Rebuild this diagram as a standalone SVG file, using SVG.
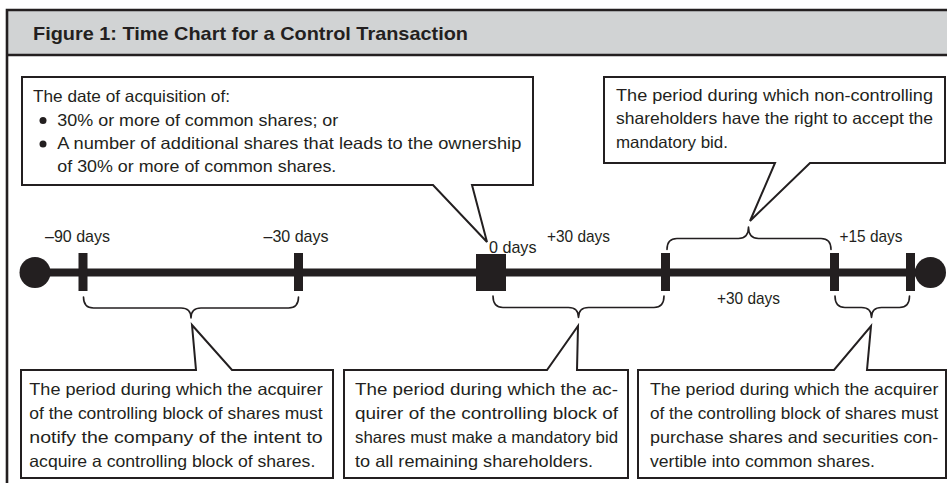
<svg xmlns="http://www.w3.org/2000/svg" width="947" height="483" viewBox="0 0 947 483">
<style>
text{font-family:"Liberation Sans",Arial,sans-serif;font-size:16.5px;fill:#231f20}
.title{font-weight:bold;font-size:19px}
.lbl{font-size:17px}
.box{fill:#fff;stroke:#231f20;stroke-width:2;stroke-linejoin:miter}
.brace{fill:none;stroke:#231f20;stroke-width:1.6;stroke-linecap:round;stroke-linejoin:round}
.solid{fill:#231f20}
</style>
<rect x="0" y="0" width="947" height="483" fill="#fff"/>
<g id="frame">
<rect x="7" y="10" width="945" height="45" fill="#d1d3d4"/>
<path d="M7,490 V10 H952 M7,55 H952" fill="none" stroke="#231f20" stroke-width="2.6"/>
<text class="title" x="33" y="40" textLength="435" lengthAdjust="spacingAndGlyphs">Figure 1: Time Chart for a Control Transaction</text>
</g>
<g id="timeline">
<rect class="solid" x="35" y="268.5" width="895" height="8"/>
<circle class="solid" cx="35" cy="272.5" r="15.5"/>
<circle class="solid" cx="930.5" cy="272.5" r="15.5"/>
<rect class="solid" x="78.5" y="253" width="9" height="38"/>
<rect class="solid" x="294" y="253" width="9" height="38"/>
<rect class="solid" x="476" y="254" width="30" height="37"/>
<rect class="solid" x="661" y="253" width="9" height="38"/>
<rect class="solid" x="830" y="253" width="9" height="38"/>
<rect class="solid" x="906" y="253" width="9" height="38"/>
</g>
<g id="labels">
<text class="lbl" x="45" y="241.5" textLength="65" lengthAdjust="spacingAndGlyphs">–90 days</text>
<text class="lbl" x="263.5" y="241.5" textLength="65" lengthAdjust="spacingAndGlyphs">–30 days</text>
<text class="lbl" x="489" y="252.5" textLength="47.5" lengthAdjust="spacingAndGlyphs">0 days</text>
<text class="lbl" x="547" y="241.5" textLength="63" lengthAdjust="spacingAndGlyphs">+30 days</text>
<text class="lbl" x="839.5" y="241.5" textLength="63" lengthAdjust="spacingAndGlyphs">+15 days</text>
<text class="lbl" x="717" y="304" textLength="63" lengthAdjust="spacingAndGlyphs">+30 days</text>
</g>
<g id="connectors">
<path class="brace" d="M83.5,297 Q83.5,308 93.5,308 L181,308 Q191,308 191,318 Q191,308 201,308 L288.5,308 Q298.5,308 298.5,297"/>
<path class="brace" d="M493,296 Q493,307.5 503,307.5 L568.5,307.5 Q578.5,307.5 578.5,317.5 Q578.5,307.5 588.5,307.5 L654,307.5 Q664,307.5 664,296"/>
<path class="brace" d="M835,296 Q835,307.5 845,307.5 L861.5,307.5 Q871.5,307.5 871.5,317.5 Q871.5,307.5 881.5,307.5 L899.5,307.5 Q909.5,307.5 909.5,296"/>
<path class="brace" d="M667,249.5 Q667,238.5 677,238.5 L738.5,238.5 Q748.5,238.5 748.5,227 Q748.5,238.5 758.5,238.5 L821,238.5 Q831,238.5 831,249.5"/>
</g>
<g id="callout-acquisition">
<path class="box" d="M22,77 H533 V185 H472 L487,242 L433,185 H22 Z"/>
<text x="33" y="102" textLength="197" lengthAdjust="spacingAndGlyphs">The date of acquisition of:</text>
<circle class="solid" cx="43" cy="120.5" r="3.5"/>
<text x="57.3" y="125.5" textLength="281" lengthAdjust="spacingAndGlyphs">30% or more of common shares; or</text>
<circle class="solid" cx="43" cy="144" r="3.5"/>
<text x="57.3" y="149" textLength="464" lengthAdjust="spacingAndGlyphs">A number of additional shares that leads to the ownership</text>
<text x="57.3" y="172" textLength="279" lengthAdjust="spacingAndGlyphs">of 30% or more of common shares.</text>
</g>
<g id="callout-acceptance">
<path class="box" d="M604,77 H945 V163 H810 L750,221 L775,163 H604 Z"/>
<text x="616" y="100.5" textLength="317" lengthAdjust="spacingAndGlyphs">The period during which non-controlling</text>
<text x="616" y="124" textLength="317" lengthAdjust="spacingAndGlyphs">shareholders have the right to accept the</text>
<text x="616" y="147.5" textLength="112" lengthAdjust="spacingAndGlyphs">mandatory bid.</text>
</g>
<g id="callout-notify">
<path class="box" d="M21,370 H196 L192,325 L232,370 H333 V478 H21 Z"/>
<text x="29.3" y="395" textLength="293.4" lengthAdjust="spacingAndGlyphs">The period during which the acquirer</text>
<text x="29.3" y="419" textLength="293.4" lengthAdjust="spacingAndGlyphs">of the controlling block of shares must</text>
<text x="29.3" y="443" textLength="293.4" lengthAdjust="spacingAndGlyphs">notify the company of the intent to</text>
<text x="29.3" y="467" textLength="286" lengthAdjust="spacingAndGlyphs">acquire a controlling block of shares.</text>
</g>
<g id="callout-bid">
<path class="box" d="M344,370 H547 L578,326 L577,370 H628 V478 H344 Z"/>
<text x="355" y="395" textLength="263" lengthAdjust="spacingAndGlyphs">The period during which the ac-</text>
<text x="355" y="419" textLength="263" lengthAdjust="spacingAndGlyphs">quirer of the controlling block of</text>
<text x="355" y="443" textLength="263" lengthAdjust="spacingAndGlyphs">shares must make a mandatory bid</text>
<text x="355" y="467" textLength="238" lengthAdjust="spacingAndGlyphs">to all remaining shareholders.</text>
</g>
<g id="callout-purchase">
<path class="box" d="M638,370 H834 L871,326 L867,370 H946 V478 H638 Z"/>
<text x="650" y="395" textLength="288.3" lengthAdjust="spacingAndGlyphs">The period during which the acquirer</text>
<text x="650" y="419" textLength="288.3" lengthAdjust="spacingAndGlyphs">of the controlling block of shares must</text>
<text x="650" y="443" textLength="288.3" lengthAdjust="spacingAndGlyphs">purchase shares and securities con-</text>
<text x="650" y="467" textLength="225" lengthAdjust="spacingAndGlyphs">vertible into common shares.</text>
</g>
</svg>
